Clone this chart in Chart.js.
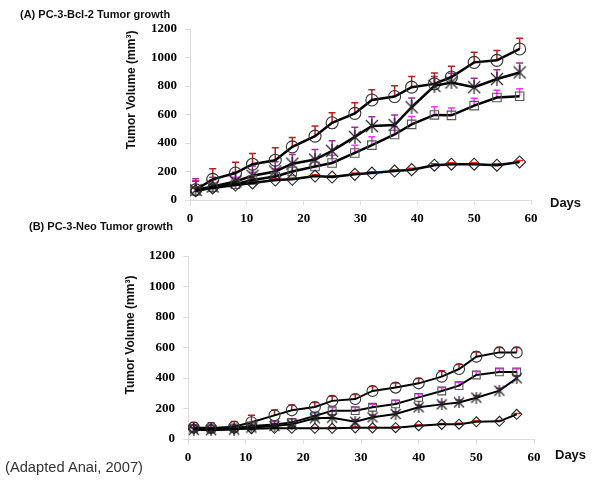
<!DOCTYPE html>
<html>
<head>
<meta charset="utf-8">
<script src="https://cdn.jsdelivr.net/npm/chart.js@4.4.1/dist/chart.umd.min.js"></script>
<style>
  body { margin: 0; background: #fff; width: 600px; height: 483px; position: relative; overflow: hidden; font-family: Arial, "Liberation Sans", sans-serif; }
  .box { position: absolute; left: 0; width: 600px; }
  .txt { position: absolute; white-space: nowrap; color: #111; }
  .ytitle { position: absolute; font-weight: bold; font-size: 12px; transform: translate(-50%, -50%) rotate(-90deg); white-space: nowrap; color: #111; }
  .warm { position: absolute; left: -100px; top: -100px; font: bold 13px "Liberation Serif"; }
</style>
</head>
<body>
<span class="warm">0123456789</span>
<div class="box" style="top:0;height:226px"><canvas id="chartA"></canvas></div>
<div class="box" style="top:226px;height:257px"><canvas id="chartB"></canvas></div>

<div class="txt" style="left:20px;top:8px;font-size:11px;font-weight:bold">(A) PC-3-Bcl-2 Tumor growth</div>
<div class="txt" style="left:29px;top:220px;font-size:11px;font-weight:bold">(B) PC-3-Neo Tumor growth</div>
<div class="txt" style="left:550px;top:195px;font-size:13px;font-weight:bold">Days</div>
<div class="txt" style="left:555px;top:447px;font-size:13px;font-weight:bold">Days</div>
<div class="txt" style="left:5px;top:459px;font-size:14.7px;color:#333">(Adapted Anai, 2007)</div>
<div class="ytitle" style="left:131px;top:90px">Tumor Volume (mm³)</div>
<div class="ytitle" style="left:130px;top:335px">Tumor Volume (mm³)</div>

<script>
// panel A: PC-3-Bcl-2
const daysA = [1, 4, 8, 11, 15, 18, 22, 25, 29, 32, 36, 39, 43, 46, 50, 54, 58];
const circleA = [72, 145, 189, 251, 279, 373, 448, 542, 608, 702, 726, 792, 815, 863, 966, 980, 1060];
const starA = [70, 95, 130, 170, 200, 255, 284, 345, 443, 519, 526, 651, 801, 825, 792, 849, 895];
const squareA = [65, 90, 110, 140, 165, 200, 235, 260, 330, 385, 460, 531, 597, 594, 662, 719, 728];
const diamondA = [65, 85, 105, 120, 140, 145, 168, 161, 180, 189, 203, 213, 244, 251, 251, 244, 267];
const circleErrA = [60, 75, 76, 75, 87, 66, 71, 71, 75, 71, 75, 75, 76, 75, 70, 70, 75];
const starErrA = [80, 65, 65, 68, 68, 65, 70, 70, 67, 66, 71, 65, 65, 65, 63, 65, 66];
const squareErrA = [70, 50, 50, 55, 55, 55, 55, 54, 55, 58, 55, 55, 58, 52, 52, 52, 52];
const diamondErrA = [20, 10, 10, 10, 10, 10, 10, 10, 10, 10, 10, 10, 10, 10, 10, 10, 10];

// panel B: PC-3-Neo
const daysB = [1, 4, 8, 11, 15, 18, 22, 25, 29, 32, 36, 40, 44, 47, 50, 54, 57];
const circleB = [75, 72, 80, 110, 155, 188, 210, 250, 262, 315, 337, 365, 409, 459, 540, 568, 568];
const squareB = [70, 68, 72, 85, 95, 109, 151, 186, 186, 208, 230, 273, 315, 350, 420, 440, 440];
const starB = [60, 58, 62, 75, 85, 96, 136, 140, 113, 142, 164, 208, 227, 240, 271, 317, 398];
const diamondB = [68, 66, 66, 68, 70, 70, 70, 70, 73, 73, 74, 87, 96, 97, 113, 116, 162];
const circleErrB = [34, 35, 35, 45, 35, 35, 30, 30, 30, 30, 30, 32, 38, 30, 30, 32, 32];
const squareErrB = [20, 20, 20, 20, 20, 20, 20, 20, 20, 20, 22, 22, 22, 22, 22, 20, 20];
const starErrB = [15, 15, 15, 15, 15, 15, 15, 15, 15, 15, 15, 15, 15, 15, 15, 15, 15];
const diamondErrB = [6, 6, 6, 6, 6, 6, 6, 6, 6, 6, 6, 6, 6, 6, 6, 6, 6];

const xTicks = [0, 10, 20, 30, 40, 50, 60];
const yTicks = [0, 200, 400, 600, 800, 1000, 1200];

const tickFont = { family: 'Liberation Serif', weight: 'bold', size: 13 };

// asterisk marker (X with a vertical bar)
function starMarker(size) {
  var c = document.createElement('canvas');
  c.width = size; c.height = size;
  var g = c.getContext('2d');
  g.strokeStyle = '#222';
  g.lineWidth = 1.2;
  g.beginPath();
  g.moveTo(1, 1); g.lineTo(size - 1, size - 1);
  g.moveTo(size - 1, 1); g.lineTo(1, size - 1);
  g.moveTo(size / 2, 0); g.lineTo(size / 2, size);
  g.stroke();
  return c;
}

// upward error bars drawn under the lines
const errorBars = {
  id: 'errorBars',
  beforeDatasetsDraw(chart) {
    const ctx = chart.ctx;
    const xs = chart.scales.x, ys = chart.scales.y;
    chart.data.datasets.forEach(ds => {
      if (!ds.errors) return;
      ctx.save();
      ctx.strokeStyle = ds.errColor;
      ctx.lineWidth = 1.5;
      ds.data.forEach((p, i) => {
        const x = xs.getPixelForValue(p.x);
        const y0 = ys.getPixelForValue(p.y);
        const y1 = ys.getPixelForValue(p.y + ds.errors[i]);
        ctx.beginPath();
        ctx.moveTo(x, y0); ctx.lineTo(x, y1);
        ctx.moveTo(x - 3.5, y1); ctx.lineTo(x + 3.5, y1);
        ctx.stroke();
      });
      ctx.restore();
    });
  }
};

function pts(days, vals) {
  return vals.map((v, i) => ({ x: days[i], y: v }));
}

function series(days, vals, errs, errColor, style, radius, border, lw) {
  return {
    data: pts(days, vals),
    errors: errs,
    errColor: errColor,
    borderColor: '#000',
    borderWidth: lw,
    tension: 0,
    pointStyle: style,
    pointRadius: radius,
    pointBorderColor: border,
    pointBackgroundColor: 'rgba(0,0,0,0)',
    pointBorderWidth: 1.1
  };
}

function makeChart(id, datasets, pad) {
  return new Chart(document.getElementById(id).getContext('2d'), {
    type: 'line',
    data: { datasets: datasets },
    options: {
      responsive: true,
      maintainAspectRatio: false,
      animation: false,
      layout: { padding: pad },
      plugins: { legend: { display: false }, tooltip: { enabled: false } },
      scales: {
        x: {
          type: 'linear', min: 0, max: 60,
          afterBuildTicks: s => { s.ticks = xTicks.map(v => ({ value: v })); },
          afterFit: s => { s.height = 25; },
          grid: { drawOnChartArea: false, color: '#ddd', tickLength: 5 },
          border: { color: '#ddd' },
          ticks: { color: '#000', padding: 6, maxRotation: 0, font: tickFont, callback: v => String(v) }
        },
        y: {
          min: 0, max: 1200,
          afterBuildTicks: s => { s.ticks = yTicks.map(v => ({ value: v })); },
          afterFit: s => { s.width = 68; },
          grid: { drawOnChartArea: false, color: '#ddd', tickLength: 5 },
          border: { color: '#ddd' },
          ticks: { color: '#000', padding: 8, font: tickFont, callback: v => String(v) }
        }
      }
    },
    plugins: [errorBars]
  });
}

function drawAll() {
  makeChart('chartA', [
    series(daysA, diamondA, diamondErrA, '#ff2020', 'rectRot', 6, '#222', 2.5),
    series(daysA, squareA, squareErrA, '#ff33ff', 'rect', 6, '#555', 2.5),
    series(daysA, starA, starErrA, '#993399', starMarker(14), 7, '#222', 2.5),
    series(daysA, circleA, circleErrA, '#b22222', 'circle', 6, '#333', 2.5)
  ], { left: 122, right: 69, top: 29, bottom: 1 });

  makeChart('chartB', [
    series(daysB, diamondB, diamondErrB, '#ff2020', 'rectRot', 5, '#222', 2),
    series(daysB, starB, starErrB, '#993399', starMarker(12), 6, '#222', 2),
    series(daysB, squareB, squareErrB, '#ff33ff', 'rect', 5.5, '#555', 2),
    series(daysB, circleB, circleErrB, '#b22222', 'circle', 5.5, '#333', 2)
  ], { left: 120, right: 66, top: 30, bottom: 19 });
}

document.fonts.load('bold 13px "Liberation Serif"').then(drawAll, drawAll);
</script>
</body>
</html>
